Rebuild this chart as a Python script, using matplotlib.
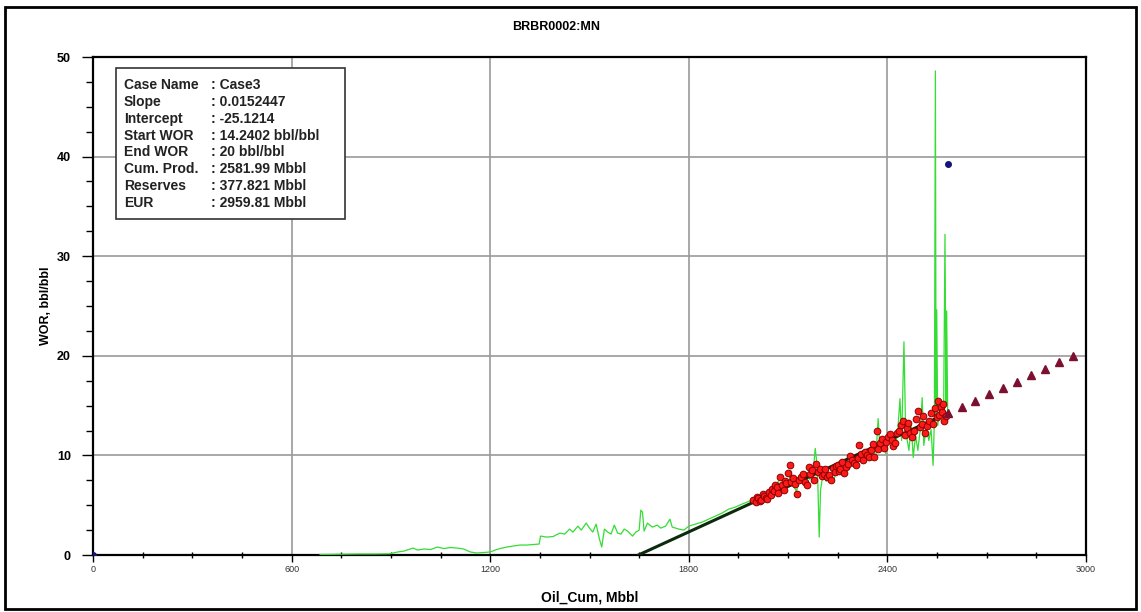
import matplotlib

matplotlib.use('Agg')
import matplotlib.pyplot as plt
from matplotlib.patches import Rectangle
from matplotlib.ticker import MultipleLocator

plt.rcParams['font.family'] = ['Liberation Sans', 'DejaVu Sans']

# Parametros del ajuste WOR vs Np
case_name = "Case3"
slope = 0.0152447
intercept = -25.1214
start_wor = 14.2402
end_wor = 20
cum_prod = 2581.99
reserves = 377.821
eur = 2959.81

# Historia WOR (linea verde)
hist_np = [686, 750, 800, 850, 897, 920, 940, 967, 980, 1000, 1020, 1040, 1060, 1080, 1100, 1120,
           1140, 1160, 1180, 1200, 1215, 1230, 1250, 1270, 1290, 1310, 1330, 1348, 1352, 1370, 1390,
           1410, 1425, 1440, 1450, 1465, 1475, 1490, 1500, 1510, 1520, 1530, 1537, 1545, 1555, 1565,
           1575, 1585, 1595, 1605, 1615, 1630, 1640, 1650, 1655, 1660, 1665, 1675, 1690, 1705, 1715,
           1730, 1743, 1750, 1770, 1785, 1800, 1820, 1840, 1860, 1880, 1900, 1920, 1940, 1960, 1975,
           1990, 2002, 2010, 2020, 2030, 2040, 2050, 2060, 2070, 2080, 2090, 2100, 2108, 2115, 2125,
           2135, 2145, 2155, 2165, 2175, 2182, 2186, 2190, 2194, 2198, 2205, 2215, 2225, 2235, 2245,
           2255, 2265, 2275, 2285, 2295, 2305, 2315, 2325, 2335, 2345, 2355, 2365, 2372, 2378, 2388,
           2395, 2405, 2415, 2425, 2432, 2438, 2443, 2450, 2455, 2465, 2472, 2478, 2485, 2492, 2500,
           2505, 2510, 2518, 2525, 2532, 2538, 2542, 2545, 2547, 2549, 2552, 2558, 2565, 2570, 2574,
           2577, 2579, 2582]
hist_wor = [0.05, 0.08, 0.1, 0.1, 0.12, 0.3, 0.4, 0.7, 0.5, 0.6, 0.55, 0.8, 0.65, 0.75, 0.7, 0.6,
            0.3, 0.2, 0.25, 0.3, 0.5, 0.65, 0.8, 0.9, 1.0, 1.0, 1.05, 1.1, 1.9, 1.8, 1.85,
            2.2, 2.1, 2.6, 2.3, 2.9, 2.5, 3.2, 2.7, 2.3, 3.1, 1.6, 0.8, 2.6, 2.3, 2.1,
            3.0, 2.2, 2.1, 2.6, 2.4, 1.9, 2.3, 2.5, 4.5, 4.3, 2.4, 3.2, 2.8, 3.0, 2.7,
            2.9, 3.6, 2.8, 2.6, 2.5, 2.9, 3.1, 3.3, 3.6, 3.9, 4.2, 4.6, 4.8, 5.1, 5.3,
            5.5, 5.4, 5.8, 5.3, 6.2, 5.7, 6.6, 6.1, 7.4, 6.5, 7.6, 6.9, 8.5, 7.0, 6.4,
            7.6, 7.1, 8.3, 7.6, 8.0, 10.7, 9.5, 7.0, 1.8, 6.5, 8.0, 7.4, 7.9, 7.2, 8.3,
            8.6, 8.0, 9.2, 8.6, 9.6, 8.8, 10.2, 9.2, 10.1, 9.5, 10.6, 9.8, 13.7, 10.5, 11.0,
            10.2, 11.8, 11.2, 10.8, 12.8, 15.7, 11.5, 21.4, 12.5, 10.5, 13.0, 9.8, 12.0, 10.5, 12.8,
            15.8, 11.0, 13.0, 11.5, 12.6, 9.0, 13.5, 48.6, 14.0, 24.6, 13.0, 14.5, 13.8, 14.8, 32.2,
            15.0, 24.5, 14.5]

# Puntos seleccionados para el ajuste (rojo)
sel_np = [1995, 2002, 2006, 2010, 2015, 2019, 2024, 2028, 2032, 2036, 2042, 2048, 2052, 2056, 2061,
          2065, 2070, 2076, 2081, 2087, 2091, 2095, 2100, 2105, 2110, 2116, 2122, 2127, 2133, 2139,
          2144, 2150, 2156, 2162, 2167, 2173, 2179, 2184, 2190, 2196, 2201, 2207, 2212, 2218, 2224,
          2230, 2236, 2241, 2246, 2250, 2254, 2258, 2264, 2270, 2276, 2281, 2287, 2293, 2298, 2304,
          2310, 2315, 2321, 2327, 2333, 2338, 2344, 2350, 2355, 2361, 2368, 2373, 2378, 2384, 2390,
          2395, 2401, 2407, 2413, 2418, 2424, 2430, 2435, 2441, 2447, 2452, 2458, 2463, 2469, 2475,
          2481, 2486, 2492, 2498, 2504, 2509, 2515, 2520, 2526, 2532, 2538, 2544, 2549, 2553, 2557,
          2561, 2566, 2569, 2572, 2576]
sel_wor = [5.5, 5.3, 5.8, 5.7, 5.4, 5.5, 6.1, 5.9, 5.7, 5.6, 6.3, 6.0, 6.6, 6.4, 7.0,
           6.8, 6.2, 7.8, 7.0, 6.5, 7.4, 7.2, 8.2, 9.0, 7.3, 7.7, 7.1, 6.1, 7.5, 7.8,
           8.1, 7.3, 7.0, 8.8, 8.1, 8.5, 7.5, 9.15, 8.3, 8.65, 7.9, 8.1, 8.6, 7.8, 8.0,
           7.5, 8.7, 8.3, 8.9, 9.0, 8.4, 8.65, 9.3, 8.2, 8.8, 9.15, 9.9, 9.5, 9.2, 9.0,
           9.7, 11.0, 10.1, 9.5, 10.3, 10.0, 9.8, 10.5, 11.1, 9.8, 12.5, 10.6, 11.2, 11.6, 10.7,
           11.3, 11.8, 12.1, 11.5, 10.9, 11.2, 12.2, 12.5, 13.1, 13.5, 12.0, 12.8, 13.3, 12.2, 11.8,
           12.5, 13.7, 14.5, 12.9, 13.2, 14.0, 12.2, 13.0, 13.5, 14.3, 13.2, 14.8, 13.85, 15.5, 14.1,
           14.9, 14.35, 15.2, 13.5, 14.0]

# Pronostico (triangulos)
fc_np = [2582, 2624, 2666, 2708, 2750, 2792, 2834, 2876, 2918, 2959.81]
fc_wor = [14.24, 14.9, 15.5, 16.2, 16.8, 17.4, 18.1, 18.7, 19.4, 20.0]

# Puntos descartados (azul)
out_np = [0, 2583]
out_wor = [0, 39.3]

W, H = 1141, 612
fig = plt.figure(figsize=(W / 100, H / 100), dpi=100)
ax = fig.add_axes([93 / W, (H - 555) / H, 993 / W, 498 / H])

ax.plot(hist_np, hist_wor, color='#33dd33', lw=0.9, zorder=3)

# recta de ajuste desde el corte con WOR=0 hasta la produccion acumulada
x0 = -intercept / slope
ax.plot([x0, cum_prod], [slope * x0 + intercept, slope * cum_prod + intercept],
        color='#0c2a0c', lw=2.2, zorder=4)

ax.plot(sel_np, sel_wor, 'o', ms=4.8, mfc='#ff1a1a', mec='#8b0000', mew=0.7, zorder=5)
ax.plot(fc_np, fc_wor, '^', ms=6, color='#7b1030', zorder=5)
ax.plot(out_np, out_wor, 'o', ms=4, color='#14147a', zorder=6)

ax.set_xlim(0, 3000)
ax.set_ylim(0, 50)
ax.xaxis.set_major_locator(MultipleLocator(600))
ax.xaxis.set_minor_locator(MultipleLocator(150))
ax.yaxis.set_major_locator(MultipleLocator(10))
ax.yaxis.set_minor_locator(MultipleLocator(2.5))
ax.grid(True, which='major', color='#9a9a9a', lw=1.2)
ax.set_axisbelow(True)

ax.tick_params(axis='y', which='major', direction='out', length=8, width=1, pad=8,
               labelsize=9)
ax.tick_params(axis='y', which='minor', direction='out', length=5, width=1)
ax.tick_params(axis='x', which='major', direction='out', length=5, width=1, pad=2,
               labelsize=6.5, labelcolor='#333333')
ax.tick_params(axis='x', which='minor', direction='inout', length=4, width=1)
for lbl in ax.get_yticklabels():
    lbl.set_fontweight('bold')
for s in ax.spines.values():
    s.set_linewidth(1.6)
    s.set_color('black')

ax.set_xlabel("Oil_Cum, Mbbl", fontsize=10, fontweight='bold', labelpad=12)
ax.set_ylabel("WOR, bbl/bbl", fontsize=9, fontweight='bold', labelpad=3)
fig.text(556 / W, 1 - 27 / H, "BRBR0002:MN", ha='center', va='center',
         fontsize=9, fontweight='bold')

# cuadro de resultados
labels = ["Case Name", "Slope", "Intercept", "Start WOR", "End WOR", "Cum. Prod.", "Reserves", "EUR"]
values = [case_name, f"{slope}", f"{intercept}", f"{start_wor} bbl/bbl", f"{end_wor} bbl/bbl",
          f"{cum_prod} Mbbl", f"{reserves} Mbbl", f"{eur} Mbbl"]
bx0, bx1 = 23 / 993, 252 / 993
by0, by1 = (555 - 219) / 498, (555 - 68) / 498
ax.add_patch(Rectangle((bx0, by0), bx1 - bx0, by1 - by0, transform=ax.transAxes,
                       facecolor='white', edgecolor='#333333', lw=1.2, zorder=7))
for i, (l, v) in enumerate(zip(labels, values)):
    yy = (555 - 85 - i * 16.86) / 498
    ax.text(31 / 993, yy, l, transform=ax.transAxes, va='center', ha='left',
            fontsize=10, fontweight='bold', color='#222222', zorder=8)
    ax.text(118 / 993, yy, ": " + v, transform=ax.transAxes, va='center', ha='left',
            fontsize=10, fontweight='bold', color='#222222', zorder=8)

# marco exterior
fig.add_artist(Rectangle((5 / W, 1 - 609 / H), 1131 / W, 602 / H, transform=fig.transFigure,
                         fill=False, edgecolor='black', lw=2))

plt.savefig('out.png', dpi=100)
plt.close()
